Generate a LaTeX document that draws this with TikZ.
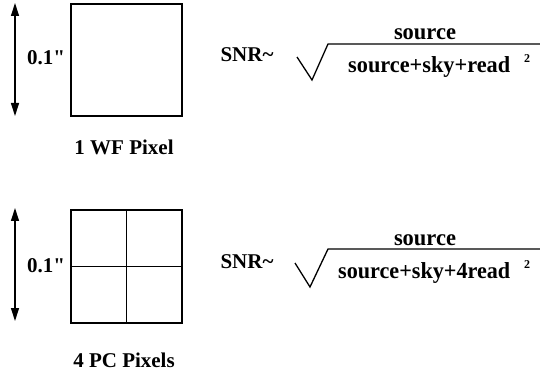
\documentclass[tikz,border=0pt]{standalone}
\usepackage{fontspec}
\setmainfont{Liberation Serif}
\newfontfamily\qfont{Liberation Serif}[Ligatures=TeXOff]
\usetikzlibrary{arrows.meta}
\tikzset{
  lbl/.style={font=\fontsize{21}{24}\selectfont\bfseries, inner sep=0pt, anchor=base},
  frm/.style={font=\fontsize{23}{26}\selectfont\bfseries, inner sep=0pt, anchor=base},
  den/.style={frm, anchor=base west},
  sup/.style={font=\fontsize{12}{14}\selectfont\bfseries, inner sep=0pt, anchor=base},
  pix/.style={draw, line width=1.3pt},
  grid/.style={line width=1pt},
  dim/.style={line width=1.2pt, {Triangle[length=13pt,width=8pt]}-{Triangle[length=13pt,width=8pt]}},
  rad/.style={line width=1.3pt, line join=miter}
}
\begin{document}
\begin{tikzpicture}[x=1pt,y=-1pt]
\useasboundingbox (0,0) rectangle (540,371);
% top: 1 WF pixel
\node[pix, minimum width=111pt, minimum height=112pt, inner sep=0pt] (wf) at (126.5,60) {};
\coordinate (a1t) at (15,3);
\coordinate (a1b) at (15,116);
\draw[dim] (a1t) -- (a1b);
\node[lbl, fill=white, inner xsep=1pt] (d1) at (46,65) {0.1{\qfont\bfseries "}};
\node[lbl] (wfl) at (124,155) {1 WF Pixel};
\node[lbl] (snr1) at (247,62) {SNR\symbol{126}};
\coordinate (r1a) at (297,57);
\coordinate (r1b) at (312,80);
\coordinate (r1c) at (328,44);
\coordinate (r1d) at (540,44);
\draw[rad] (r1a) -- (r1b) -- (r1c) -- (r1d);
\node[frm] (num1) at (425,40) {\resizebox{62pt}{\height}{source}};
\node[den] (den1) at (348,73) {\resizebox{162pt}{\height}{source+sky+read}};
\node[sup] (sq1) at (527,63) {2};
% bottom: 4 PC pixels
\node[pix, minimum width=111pt, minimum height=113pt, inner sep=0pt] (pc) at (126.5,266.5) {};
\draw[grid] (pc.north) -- (pc.south);
\draw[grid] (pc.west) -- (pc.east);
\coordinate (a2t) at (15,208);
\coordinate (a2b) at (15,321);
\draw[dim] (a2t) -- (a2b);
\node[lbl, fill=white, inner xsep=1pt] (d2) at (46,272) {0.1{\qfont\bfseries "}};
\node[lbl] (pcl) at (124,367) {4 PC Pixels};
\node[lbl] (snr2) at (247,268) {SNR\symbol{126}};
\coordinate (r2a) at (295,263);
\coordinate (r2b) at (310,287);
\coordinate (r2c) at (328,249);
\coordinate (r2d) at (540,249);
\draw[rad] (r2a) -- (r2b) -- (r2c) -- (r2d);
\node[frm] (num2) at (425,245) {\resizebox{62pt}{\height}{source}};
\node[den] (den2) at (338,278) {\resizebox{172pt}{\height}{source+sky+4read}};
\node[sup] (sq2) at (527,268) {2};
\end{tikzpicture}
\end{document}
